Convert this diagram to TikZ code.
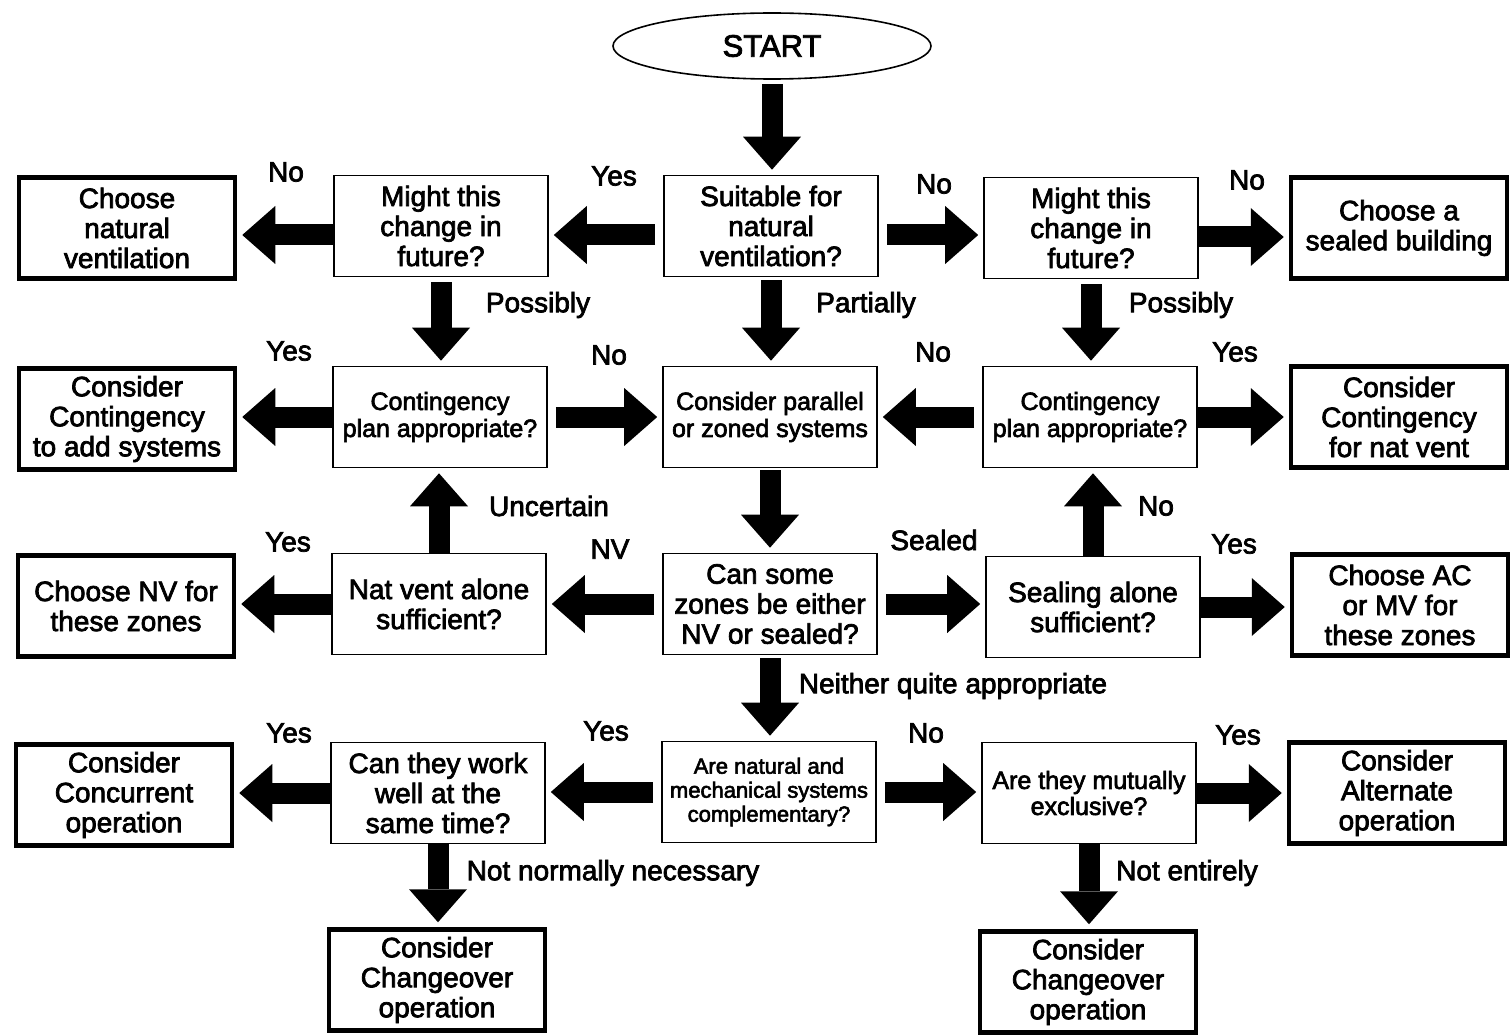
\documentclass[tikz,border=0pt]{standalone}
\usepackage{fontspec}
\setmainfont{Liberation Sans}[FakeBold=2.6]
\usetikzlibrary{arrows.meta,shapes.geometric}

\tikzset{
  ques/.style={draw, line width=1.6pt, minimum width=214pt, minimum height=101pt, inner sep=0pt, align=center, font=\fontsize{28}{30}\selectfont},
  outc/.style={draw, line width=4.5pt, minimum width=216pt, minimum height=101pt, inner sep=0pt, align=center, font=\fontsize{28}{30}\selectfont},
  fat/.style={line width=21pt, -{Triangle[width=58pt,length=33pt,line width=0pt]}, shorten >=5pt},
  lbl/.style={font=\fontsize{28}{30}\selectfont},
}

\begin{document}
\begin{tikzpicture}[x=1pt, y=-1pt]
    \useasboundingbox[fill=white] (0,0) rectangle (1510,1035);

    % Start
    \node[draw, ellipse, line width=1.6pt, minimum width=318pt, minimum height=66pt, font=\fontsize{31}{33}\selectfont] (start) at (772,46) {START};

    % Questions
    \node[ques] (suit) at (771,226) {Suitable for\\natural\\ventilation?};
    \node[ques] (mightL) at (441,226) {Might this\\change in\\future?};
    \node[ques] (mightR) at (1091,228) {Might this\\change in\\future?};
    \node[ques, font=\fontsize{25}{27}\selectfont] (contL) at (440,417) {Contingency\\plan appropriate?};
    \node[ques, font=\fontsize{25}{27}\selectfont] (par) at (770,417) {Consider parallel\\or zoned systems};
    \node[ques, font=\fontsize{25}{27}\selectfont] (contR) at (1090,417) {Contingency\\plan appropriate?};
    \node[ques] (natalone) at (439,604) {Nat vent alone\\sufficient?};
    \node[ques] (canzone) at (770,604) {Can some\\zones be either\\NV or sealed?};
    \node[ques] (sealalone) at (1093,607) {Sealing alone\\sufficient?};
    \node[ques] (workwell) at (438,793) {Can they work\\well at the\\same time?};
    \node[ques, font=\fontsize{22}{24}\selectfont] (compl) at (769,792) {Are natural and\\mechanical systems\\complementary?};
    \node[ques, font=\fontsize{25}{26}\selectfont] (mutual) at (1089,793) {Are they mutually\\exclusive?};

    % Outcomes
    \node[outc] (natv) at (127,228) {Choose\\natural\\ventilation};
    \node[outc] (sealed) at (1399,228) {Choose a\\sealed building};
    \node[outc] (addsys) at (127,419) {Consider\\Contingency\\to add systems};
    \node[outc] (forvent) at (1399,417) {Consider\\Contingency\\for nat vent};
    \node[outc] (nvzones) at (126,606) {Choose NV for\\these zones};
    \node[outc] (aczones) at (1400,605) {Choose AC\\or MV for\\these zones};
    \node[outc] (concur) at (124,795) {Consider\\Concurrent\\operation};
    \node[outc] (altern) at (1397,793) {Consider\\Alternate\\operation};
    \node[outc] (chL) at (437,980) {Consider\\Changeover\\operation};
    \node[outc] (chR) at (1088,982) {Consider\\Changeover\\operation};

    % Arrows
    \draw[fat, shorten <=4pt] (start.south) -- (start.south |- suit.north);
    \draw[fat, shorten <=8pt] ([yshift=-9pt]suit.west) -- ([yshift=-9pt]suit.west -| mightL.east);
    \draw[fat, shorten <=8pt] ([yshift=-9pt]suit.east) -- ([yshift=-9pt]suit.east -| mightR.west);
    \draw[fat] ([yshift=-9pt]mightL.west) -- ([yshift=-9pt]mightL.west -| natv.east);
    \draw[fat] ([yshift=-9pt]mightR.east) -- ([yshift=-9pt]mightR.east -| sealed.west);
    \draw[fat, shorten <=3pt] (suit.south) -- (suit.south |- par.north);
    \draw[fat, shorten <=5pt] (mightL.south) -- (mightL.south |- contL.north);
    \draw[fat, shorten <=5pt] (mightR.south) -- (mightR.south |- contR.north);

    \draw[fat, shorten <=8pt] (contL.east) -- (contL.east -| par.west);
    \draw[fat, shorten <=8pt] (contR.west) -- (contR.west -| par.east);
    \draw[fat] (contL.west) -- (contL.west -| addsys.east);
    \draw[fat] (contR.east) -- (contR.east -| forvent.west);
    \draw[fat, shorten <=2pt] (par.south) -- (par.south |- canzone.north);

    \draw[fat] (natalone.north) -- (natalone.north |- contL.south);
    \draw[fat] (sealalone.north) -- (sealalone.north |- contR.south);
    \draw[fat, shorten <=8pt] (canzone.west) -- (canzone.west -| natalone.east);
    \draw[fat, shorten <=8pt] (canzone.east) -- (canzone.east -| sealalone.west);
    \draw[fat] (natalone.west) -- (natalone.west -| nvzones.east);
    \draw[fat] (sealalone.east) -- (sealalone.east -| aczones.west);
    \draw[fat, shorten <=3pt] (canzone.south) -- (canzone.south |- compl.north);

    \draw[fat, shorten <=8pt] (compl.west) -- (compl.west -| workwell.east);
    \draw[fat, shorten <=8pt] (compl.east) -- (compl.east -| mutual.west);
    \draw[fat] (workwell.west) -- (workwell.west -| concur.east);
    \draw[fat] (mutual.east) -- (mutual.east -| altern.west);
    \draw[fat] (workwell.south) -- (workwell.south |- chL.north);
    \draw[fat] (mutual.south) -- (mutual.south |- chR.north);

    % Labels
    \node[lbl] (nA) at (286,172) {No};
    \node[lbl] (yA) at (614,176) {Yes};
    \node[lbl] (nB) at (934,184) {No};
    \node[lbl] (nC) at (1247,180) {No};
    \node[lbl] (pA) at (538,305) {Possibly};
    \node[lbl] (pB) at (866,305) {Partially};
    \node[lbl] (pC) at (1181,305) {Possibly};
    \node[lbl] (yB) at (289,351) {Yes};
    \node[lbl] (nD) at (609,355) {No};
    \node[lbl] (nE) at (933,352) {No};
    \node[lbl] (yC) at (1235,352) {Yes};
    \node[lbl] (uA) at (549,506) {Uncertain};
    \node[lbl] (nF) at (1156,506) {No};
    \node[lbl] (yD) at (288,542) {Yes};
    \node[lbl] (nvA) at (610,549) {NV};
    \node[lbl] (sA) at (934,540) {Sealed};
    \node[lbl] (yE) at (1234,544) {Yes};
    \node[lbl] (qA) at (953,686) {Neither quite appropriate};
    \node[lbl] (yF) at (289,733) {Yes};
    \node[lbl] (yG) at (606,731) {Yes};
    \node[lbl] (nG) at (926,733) {No};
    \node[lbl] (yH) at (1238,735) {Yes};
    \node[lbl] (nnA) at (613,873) {Not normally necessary};
    \node[lbl] (neA) at (1187,873) {Not entirely};
\end{tikzpicture}
\end{document}
